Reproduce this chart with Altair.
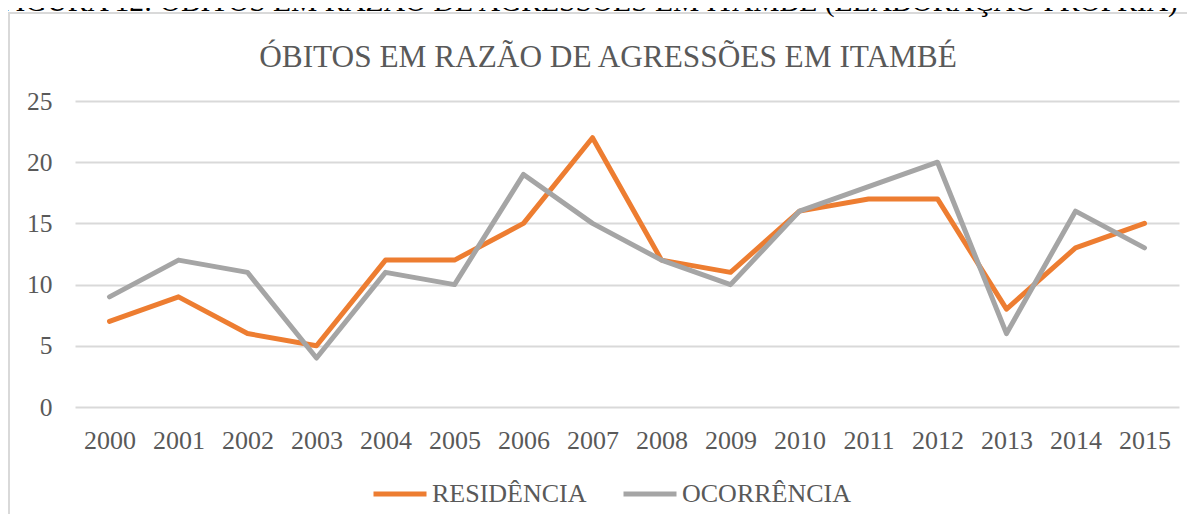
import altair as alt
import pandas as pd

years = ["2000", "2001", "2002", "2003", "2004", "2005", "2006", "2007",
         "2008", "2009", "2010", "2011", "2012", "2013", "2014", "2015"]
residencia = [7, 9, 6, 5, 12, 12, 15, 22, 12, 11, 16, 17, 17, 8, 13, 15]
ocorrencia = [9, 12, 11, 4, 11, 10, 19, 15, 12, 10, 16, 18, 20, 6, 16, 13]
series_names = ["RESIDÊNCIA", "OCORRÊNCIA"]
series_colors = ["#ED7D31", "#A5A5A5"]
y_ticks = [0, 5, 10, 15, 20, 25]
title_text = "ÓBITOS EM RAZÃO DE AGRESSÕES EM ITAMBÉ"
caption_text = "FIGURA 12: ÓBITOS EM RAZÃO DE AGRESSÕES EM ITAMBÉ (ELABORAÇÃO PRÓPRIA)"

rows = []
for name, vals in zip(series_names, [residencia, ocorrencia]):
    for yr, v in zip(years, vals):
        rows.append({"year": yr, "value": v, "series": name})
df = pd.DataFrame(rows)

FONT = "Liberation Serif, Times New Roman, serif"
TXT = "#595959"

lines = alt.Chart(df).mark_line(
    strokeWidth=5, strokeJoin="round", strokeCap="round"
).encode(
    x=alt.X("year:O", sort=years,
            scale=alt.Scale(type="point", padding=0.5),
            axis=alt.Axis(title=None, labelAngle=0, ticks=False, domain=False,
                          grid=False, labelPadding=20, labelFontSize=26,
                          labelColor=TXT, labelFont=FONT)),
    y=alt.Y("value:Q", scale=alt.Scale(domain=[0, 25], nice=False),
            axis=alt.Axis(title=None, values=y_ticks, ticks=False, domain=False,
                          grid=True, gridColor="#D9D9D9", gridWidth=2,
                          labelPadding=23, labelFontSize=25.5, labelColor=TXT,
                          labelFont=FONT)),
    color=alt.Color("series:N",
                    scale=alt.Scale(domain=series_names, range=series_colors),
                    legend=alt.Legend(title=None, orient="none", legendX=296,
                                      legendY=364, direction="horizontal",
                                      symbolType="stroke", symbolSize=2809,
                                      symbolStrokeWidth=5, labelFontSize=26,
                                      labelFont=FONT, labelColor=TXT,
                                      labelOffset=3, columnPadding=26,
                                      labelLimit=0, padding=0)),
)

frame = alt.Chart(alt.Data(values=[{}])).mark_rect(
    filled=False, stroke="#D9D9D9", strokeWidth=2
).encode(
    x=alt.value(-66), x2=alt.value(1200), y=alt.value(-88), y2=alt.value(600)
)

caption = alt.Chart(alt.Data(values=[{}])).mark_text(
    font=FONT, fontSize=29.5, color="#000000", align="left", baseline="alphabetic"
).encode(
    x=alt.value(-76), y=alt.value(-90), text=alt.value(caption_text)
)

title = alt.Chart(alt.Data(values=[{}])).mark_text(
    font=FONT, fontSize=31.3, color=TXT, align="center", baseline="alphabetic"
).encode(
    x=alt.value(533), y=alt.value(-34), text=alt.value(title_text)
)

chart = alt.layer(frame, caption, title, lines).properties(
    width=1104, height=306,
    padding={"left": 67, "top": 93, "right": 8, "bottom": 107},
    autosize=alt.AutoSizeParams(type="none"),
).configure_view(stroke=None)

chart.save("out.html", embed_options={"renderer": "svg", "actions": False})
